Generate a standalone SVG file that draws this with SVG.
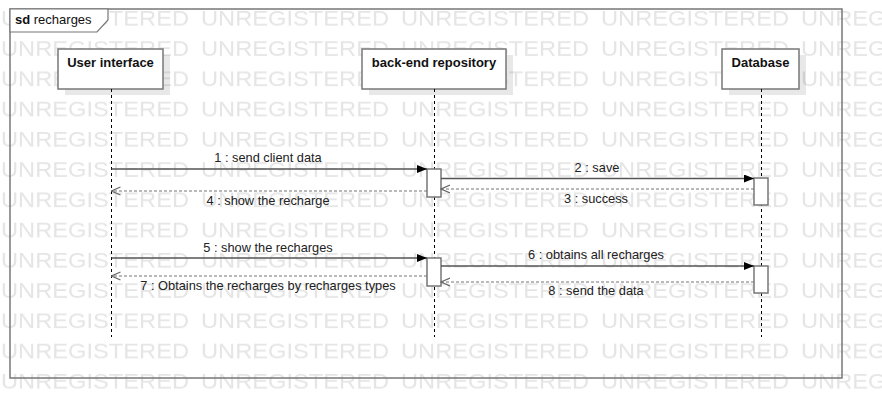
<svg xmlns="http://www.w3.org/2000/svg" width="882" height="418" viewBox="0 0 882 418">
<style>
.wm{font-family:"Liberation Sans",Arial,sans-serif;font-size:21.5px;fill:#e5e5e5}
.box{fill:#fff;stroke:#777;stroke-width:1.5}
.shadow{fill:#000;fill-opacity:0.09}
.name{font-family:"Liberation Sans",Arial,sans-serif;font-size:13px;font-weight:bold;fill:#111;text-anchor:middle}
.lbl{font-family:"Liberation Sans",Arial,sans-serif;font-size:12.8px;fill:#222;text-anchor:middle}
.life{stroke:#000;stroke-width:1;stroke-dasharray:3,3;fill:none}
.act{fill:#fff;stroke:#777;stroke-width:1.5}
.sync{stroke:#555;stroke-width:1.5;fill:none;marker-end:url(#filled)}
.ret{stroke:#777;stroke-width:1.2;stroke-dasharray:3,2;fill:none;marker-end:url(#open)}
.title{font-family:"Liberation Sans",Arial,sans-serif;font-size:13px;fill:#111}
</style>
<defs>
<pattern id="wmPat" patternUnits="userSpaceOnUse" x="1" y="10" width="200" height="30.25">
<text class="wm" x="0" y="16" textLength="188" lengthAdjust="spacingAndGlyphs">UNREGISTERED</text>
</pattern>
<marker id="filled" markerWidth="11" markerHeight="9" refX="10" refY="4" orient="auto" markerUnits="userSpaceOnUse">
<path d="M0,0 L10,4 L0,8 Z" fill="#000"/>
</marker>
<marker id="open" markerWidth="10" markerHeight="10" refX="9" refY="4.5" orient="auto" markerUnits="userSpaceOnUse">
<path d="M0,0.5 L9,4.5 L0,8.5" fill="none" stroke="#666" stroke-width="1.2"/>
</marker>
</defs>
<rect width="882" height="418" fill="#fff"/>
<rect width="882" height="393" fill="url(#wmPat)"/>

<g id="frame">
<rect x="10" y="9" width="832" height="369" fill="none" stroke="#777" stroke-width="1.5"/>
<path d="M10,9 L108,9 L108,20 L97,32 L10,32 Z" fill="#fff" stroke="#777" stroke-width="1.2"/>
<text class="title" x="15" y="24"><tspan font-weight="bold">sd</tspan> recharges</text>
</g>

<g id="user-interface">
<rect class="shadow" x="65" y="55" width="105" height="40"/>
<rect class="box" x="58" y="49" width="105" height="40"/>
<text class="name" x="110.5" y="66.5">User interface</text>
<line class="life" x1="111.5" y1="89" x2="111.5" y2="337"/>
</g>

<g id="backend-repository">
<rect class="shadow" x="369" y="55" width="144" height="40"/>
<rect class="box" x="362" y="49" width="144" height="40"/>
<text class="name" x="434" y="66.5">back-end repository</text>
<line class="life" x1="434.5" y1="89" x2="434.5" y2="337"/>
</g>

<g id="database">
<rect class="shadow" x="729" y="55" width="77" height="40"/>
<rect class="box" x="722" y="49" width="77" height="40"/>
<text class="name" x="760.5" y="66.5">Database</text>
<line class="life" x1="761.5" y1="89" x2="761.5" y2="337"/>
</g>

<g id="activations">
<rect class="act" x="427" y="169" width="14" height="28"/>
<rect class="act" x="754" y="178" width="14" height="27"/>
<rect class="act" x="427" y="258" width="14" height="28"/>
<rect class="act" x="754" y="266" width="14" height="27"/>
</g>

<g id="connectors">
<line class="sync" x1="111.5" y1="169" x2="427" y2="169"/>
<text class="lbl" x="268" y="162">1 : send client data</text>
<line class="sync" x1="441" y1="178.5" x2="754" y2="178.5"/>
<text class="lbl" x="597" y="171.5">2 : save</text>
<line class="ret" x1="754" y1="189" x2="441" y2="189"/>
<text class="lbl" x="596" y="203">3 : success</text>
<line class="ret" x1="427" y1="191" x2="111.5" y2="191"/>
<text class="lbl" x="268" y="204.5">4 : show the recharge</text>

<line class="sync" x1="111.5" y1="258" x2="427" y2="258"/>
<text class="lbl" x="268" y="252">5 : show the recharges</text>
<line class="sync" x1="441" y1="266" x2="754" y2="266"/>
<text class="lbl" x="596" y="259">6 : obtains all recharges</text>
<line class="ret" x1="427" y1="276" x2="111.5" y2="276"/>
<text class="lbl" x="268" y="290">7 : Obtains the recharges by recharges types</text>
<line class="ret" x1="754" y1="282" x2="441" y2="282"/>
<text class="lbl" x="596" y="295">8 : send the data</text>
</g>
</svg>
